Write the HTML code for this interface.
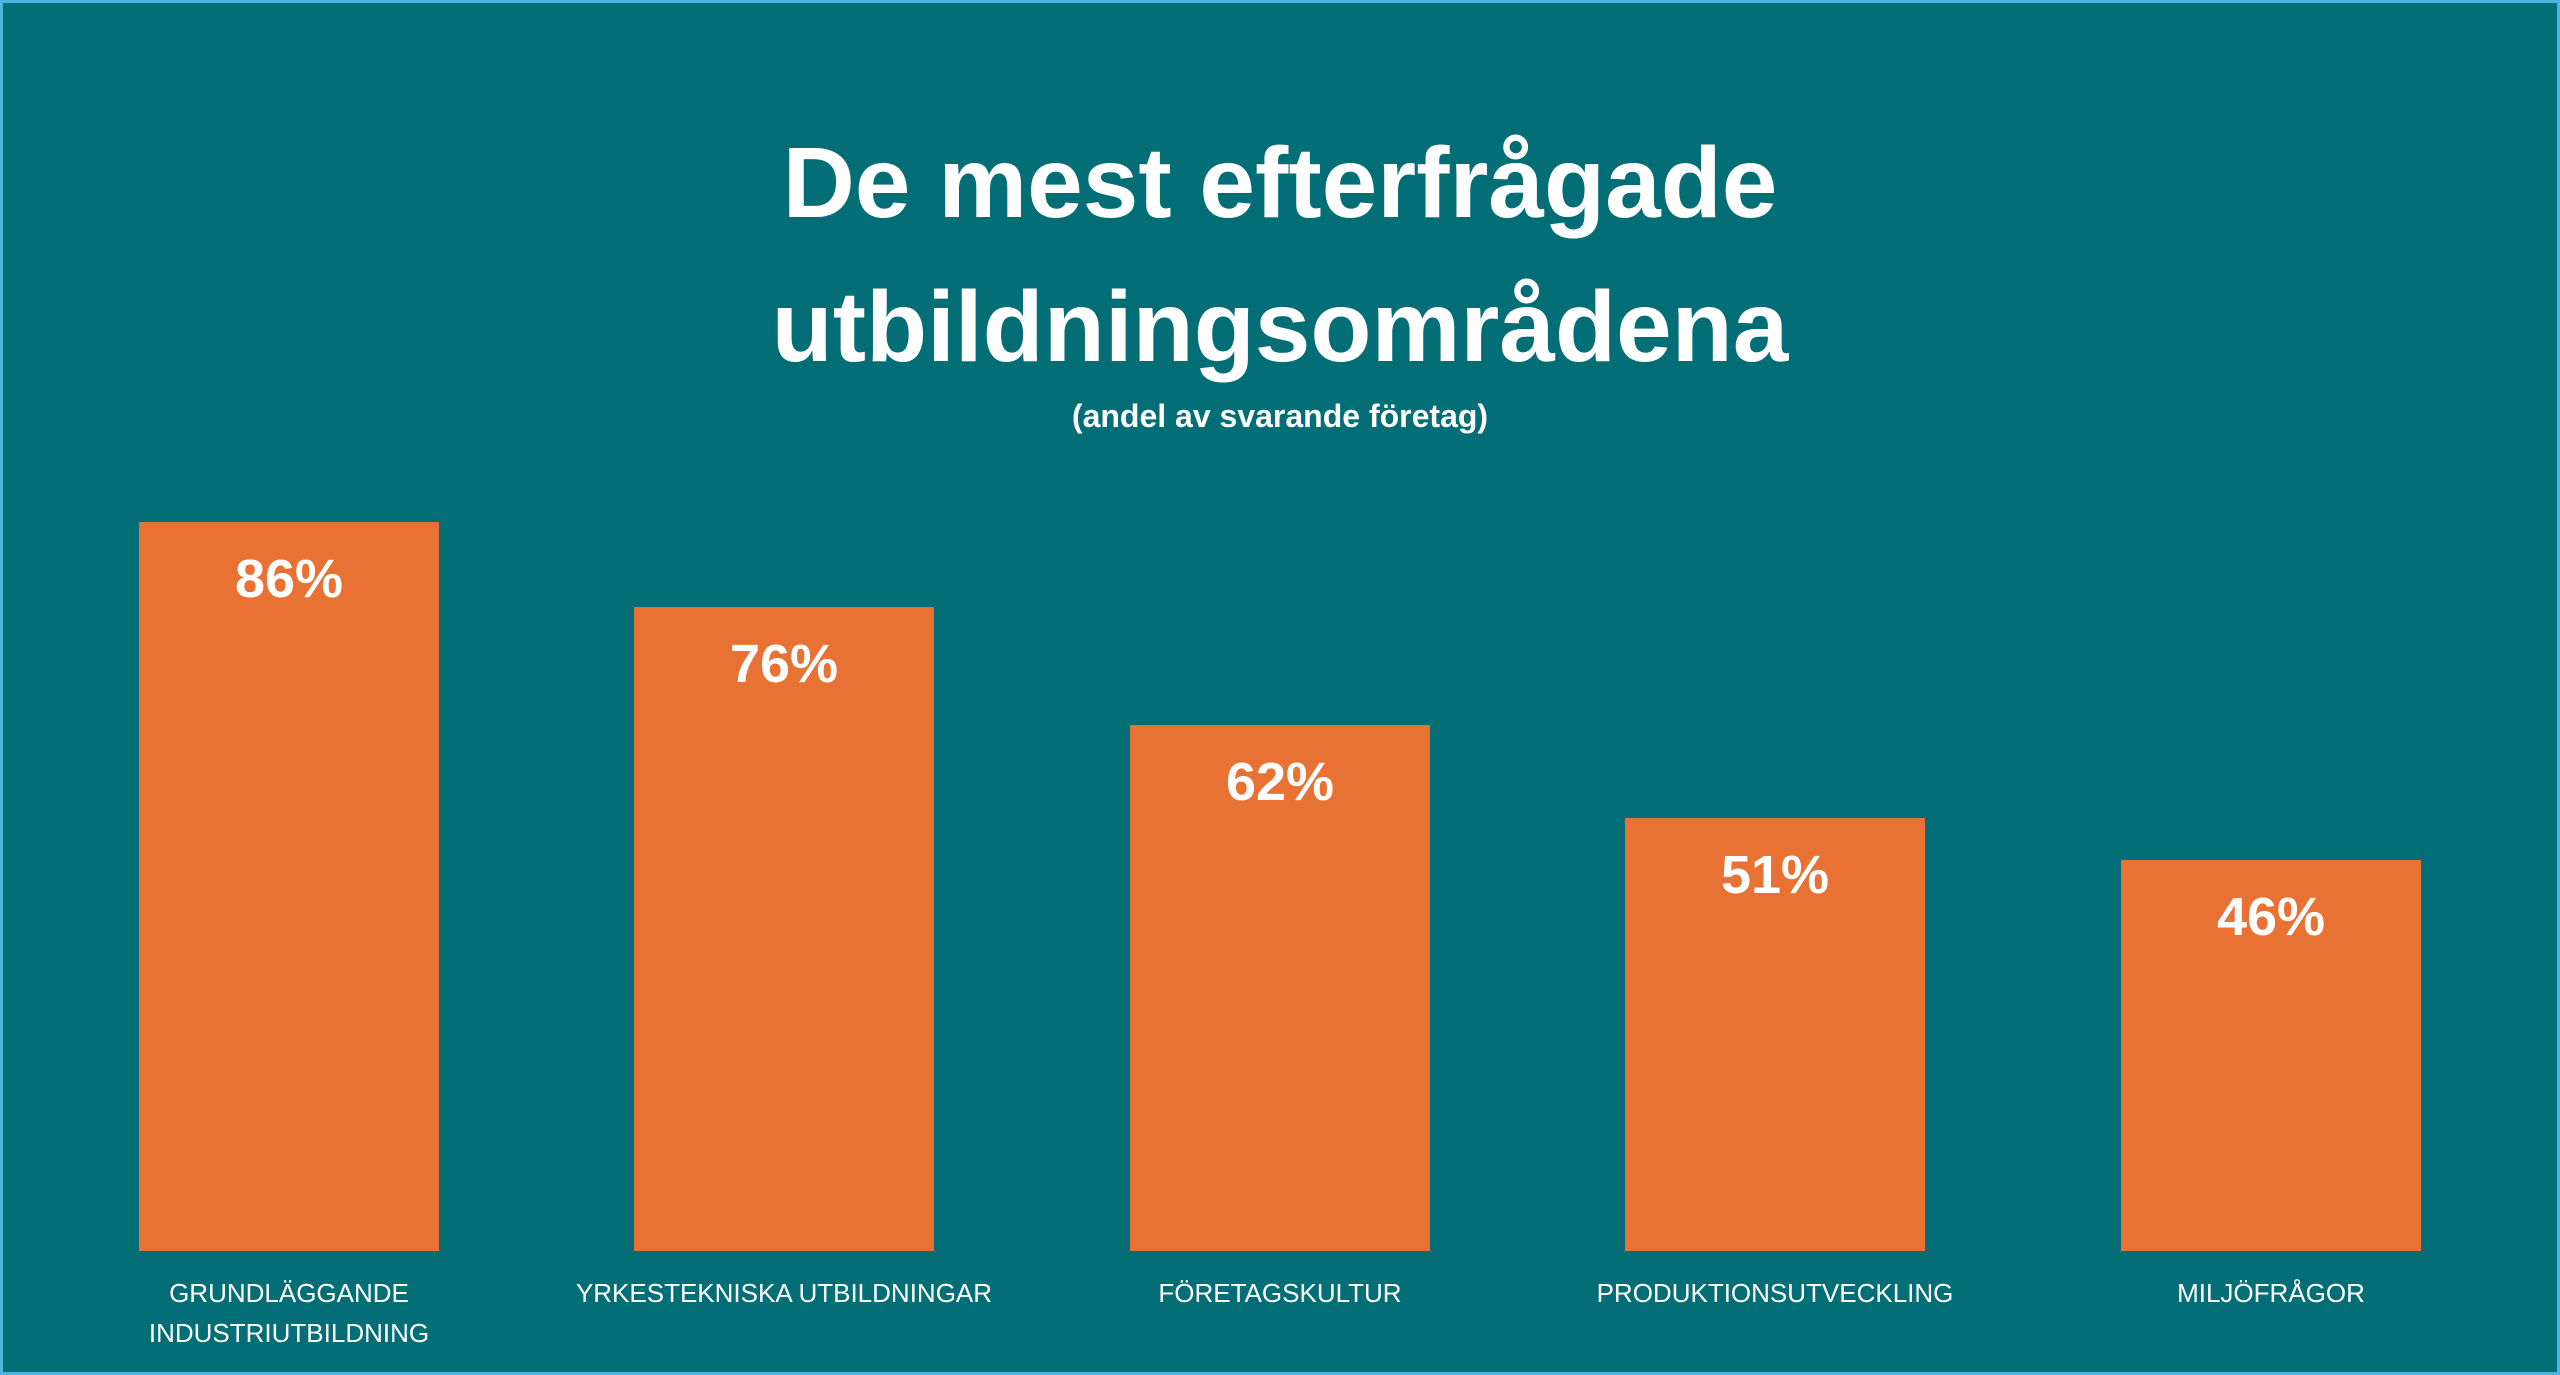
<!DOCTYPE html>
<html><head><meta charset="utf-8"><style>
html,body{margin:0;padding:0}
body{width:2560px;height:1375px;background:#036e76;position:relative;overflow:hidden;font-family:"Liberation Sans",sans-serif;color:#fff}
.frame{position:absolute;left:0;top:0;width:2554px;height:1369px;border:3px solid #4fb3df}
.t{position:absolute;left:0;width:2560px;text-align:center;font-weight:bold}
.bar{position:absolute;background:#e87234;width:300px;bottom:124px}
.v{position:absolute;width:300px;text-align:center;font-weight:bold;font-size:54px}
.c{position:absolute;width:500px;text-align:center;font-size:26px;line-height:40px;top:1273px}
</style></head><body>
<div class="frame"></div>
<div class="t" style="top:111px;font-size:100px;line-height:144px">De mest efterfrågade<br>utbildningsområdena</div>
<div class="t" style="top:398px;font-size:32px">(andel av svarande företag)</div>

<div class="bar" style="left:139px;top:522px"></div>
<div class="v" style="left:139px;top:548px">86%</div>
<div class="bar" style="left:634px;top:607px"></div>
<div class="v" style="left:634px;top:633px">76%</div>
<div class="bar" style="left:1130px;top:725px"></div>
<div class="v" style="left:1130px;top:751px">62%</div>
<div class="bar" style="left:1625px;top:818px"></div>
<div class="v" style="left:1625px;top:844px">51%</div>
<div class="bar" style="left:2121px;top:860px"></div>
<div class="v" style="left:2121px;top:886px">46%</div>

<div class="c" style="left:39px">GRUNDLÄGGANDE<br>INDUSTRIUTBILDNING</div>
<div class="c" style="left:534px">YRKESTEKNISKA UTBILDNINGAR</div>
<div class="c" style="left:1030px">FÖRETAGSKULTUR</div>
<div class="c" style="left:1525px">PRODUKTIONSUTVECKLING</div>
<div class="c" style="left:2021px">MILJÖFRÅGOR</div>
</body></html>
